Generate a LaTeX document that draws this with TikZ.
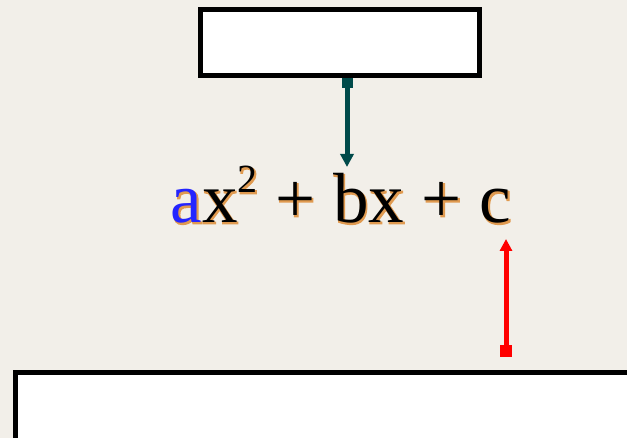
\documentclass[tikz,border=0pt]{standalone}
\usepackage{fontspec}
\setmainfont{Liberation Serif}
\usetikzlibrary{arrows.meta}

% orange halo: glyphs filled and stroked
\newcommand{\haloon}{\special{pdf:literal direct 0.878 0.604 0.314 RG 1.3 w 2 Tr}}
\newcommand{\polytext}[2]{{\color{#1}#2a}{#2x\raisebox{30pt}{\fontsize{40}{42}\selectfont#22} + bx + c}}

\begin{document}
\begin{tikzpicture}[x=1pt,y=-1pt]
    % Define colours
    \definecolor{paperColour}{HTML}{F2EFE9}
    \definecolor{tealColour}{HTML}{004A4A}
    \definecolor{aColour}{HTML}{2424FF}
    \definecolor{shadowColour}{HTML}{E09A50}

    % Define styles
    \tikzset{
        blankbox/.style={draw=black, fill=white, line width=5pt, inner sep=0pt},
        polyfont/.style={inner sep=0pt, font=\fontsize{71}{80}\selectfont},
        pointer/.style={line width=5pt, {Square[length=10pt,width=11pt]}-{Triangle[length=13pt,width=13pt]}}
    }

    % Page and background
    \useasboundingbox (0,0) rectangle (627,438);
    \clip (0,0) rectangle (627,438);
    \fill[paperColour] (0,0) rectangle (627,438);

    % Draw the two empty boxes
    \node[blankbox, minimum width=279pt, minimum height=66pt] (topbox) at (340,42.5) {};
    \node[blankbox, minimum width=800pt, minimum height=200pt, anchor=north west] (bottombox) at (12.5,370.5) {};

    % Write the polynomial, halo first
    \node[polyfont, anchor=base, text=shadowColour] (halo) at (341.8,223.8) {\polytext{shadowColour}{\haloon}};
    \node[polyfont, anchor=base] (poly) at (341,223) {\polytext{aColour}{}};

    % Arrow ends
    \coordinate (bTop) at (347,167);
    \coordinate (cBottom) at (506,239);
    \coordinate (redStart) at (506,357);

    % Draw the arrows
    \draw[pointer, tealColour] (topbox.south -| bTop) -- (bTop);
    \draw[pointer, red, {Square[length=12pt,width=12pt]}-{Triangle[length=12pt,width=12pt]}] (redStart) -- (cBottom);

\end{tikzpicture}
\end{document}
